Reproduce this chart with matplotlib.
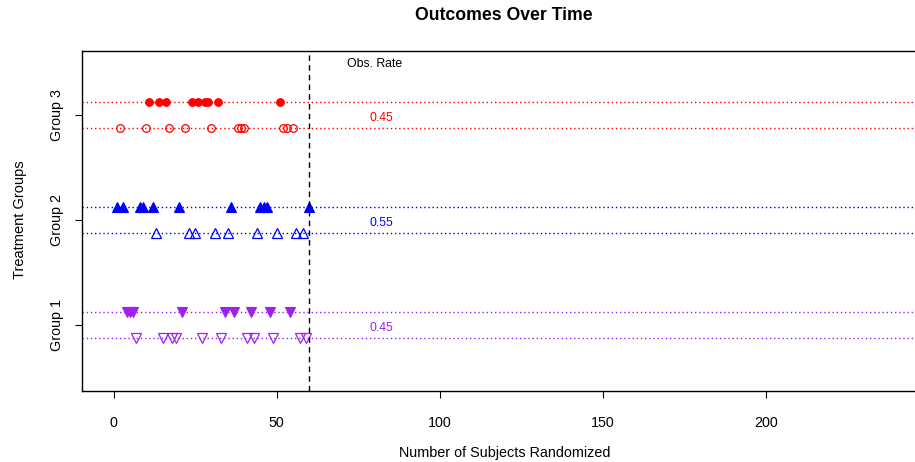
import matplotlib.pyplot as plt

plt.rcParams["font.family"] = ["Liberation Sans", "DejaVu Sans"]

# subject number at randomization, split by group and outcome
g1_event = [4, 5, 6, 21, 34, 37, 42, 48, 54]
g1_none = [7, 15, 18, 19, 27, 33, 41, 43, 49, 57, 59]
g2_event = [1, 3, 8, 9, 12, 20, 36, 45, 46, 47, 60]
g2_none = [13, 23, 25, 31, 35, 44, 50, 56, 58]
g3_event = [11, 14, 16, 24, 26, 28, 29, 32, 51]
g3_none = [2, 10, 17, 22, 30, 38, 39, 40, 52, 53, 55]

groups = ["Group 1", "Group 2", "Group 3"]
rates = ["0.45", "0.55", "0.45"]
colors = ["#A020F0", "blue", "red"]
n_randomized = 60

events = [g1_event, g2_event, g3_event]
nones = [g1_none, g2_none, g3_none]
marks = ["v", "^", "o"]
msize = [7.5, 7.5, 5.5]

fig = plt.figure(figsize=(9.15, 4.62), dpi=100)
ax = fig.add_axes([0.0899, 0.1537, 0.9243, 0.7366])

off = 0.125
for i in range(3):
    y = i + 1
    c = colors[i]
    ax.axhline(y + off, color=c, ls=(0, (1, 2)), lw=1)
    ax.axhline(y - off, color=c, ls=(0, (1, 2)), lw=1)
    ax.plot(events[i], [y + off] * len(events[i]), ls="none", marker=marks[i],
            color=c, markersize=msize[i], markeredgewidth=0.8)
    ax.plot(nones[i], [y - off] * len(nones[i]), ls="none", marker=marks[i],
            markerfacecolor="none", markeredgecolor=c, markersize=msize[i],
            markeredgewidth=0.9)
    ax.text(82, y - 0.03, rates[i], color=c, fontsize=8.8, ha="center", va="center")

ax.axvline(n_randomized, color="black", ls=(0, (4, 3)), lw=1)
ax.text(80, 3.48, "Obs. Rate", fontsize=8.8, ha="center", va="center")

ax.set_xlim(-9.6, 249.6)
ax.set_ylim(0.37, 3.61)
ax.set_xticks([0, 50, 100, 150, 200])
ax.set_yticks([1, 2, 3])
ax.set_yticklabels(groups, rotation=90, va="center")
ax.tick_params(axis="x", length=5, pad=13, labelsize=10.3)
ax.tick_params(axis="y", length=5, pad=8, labelsize=10.3)
for s in ax.spines.values():
    s.set_linewidth(1)

fig.text(504 / 915, 1 - 15 / 462, "Outcomes Over Time", fontsize=12.7,
         fontweight="bold", ha="center", va="center")
fig.text(505 / 915, 1 - 453 / 462, "Number of Subjects Randomized", fontsize=10.4,
         ha="center", va="center")
fig.text(20 / 915, 1 - 220 / 462, "Treatment Groups", fontsize=10.5,
         ha="center", va="center", rotation=90)

fig.savefig("out.png", dpi=100)
